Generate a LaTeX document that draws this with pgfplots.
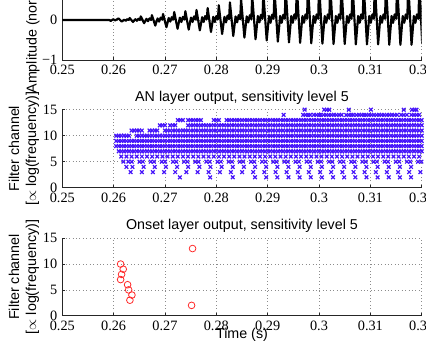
\documentclass[border=0pt]{standalone}
\usepackage{fontspec}
\setmainfont{Liberation Serif}
\newfontfamily\hv{Liberation Sans}
\usepackage{pgfplots}
\usepackage{pgfplotstable}
\pgfplotsset{compat=1.18}
\definecolor{anblue}{RGB}{70,20,250}
\definecolor{onred}{RGB}{255,40,40}
\pgfplotstableread{
t r6 r7 r8 r9 r10 r11 r12 r13
0.2605 nan nan 8 9 10 nan nan nan
0.2610 nan 7 8 9 10 nan nan nan
0.2615 6 7 8 9 10 nan nan nan
0.2620 nan 7 8 9 10 nan nan nan
0.2625 6 7 8 9 10 nan nan nan
0.2630 nan 7 8 9 10 nan nan nan
0.2635 6 7 8 9 nan 11 nan nan
0.2640 nan 7 8 9 nan 11 nan nan
0.2645 6 7 8 9 10 11 nan nan
0.2650 nan 7 8 9 10 11 nan nan
0.2655 6 7 8 9 10 11 nan nan
0.2660 nan 7 8 9 10 nan nan nan
0.2665 6 7 8 9 10 nan nan nan
0.2670 nan 7 8 9 10 11 nan nan
0.2675 6 7 8 9 10 11 nan nan
0.2680 nan 7 8 9 10 11 nan nan
0.2685 6 7 8 9 10 11 nan nan
0.2690 nan 7 8 9 10 nan 12 nan
0.2695 6 7 8 9 10 nan 12 nan
0.2700 nan 7 8 9 10 11 12 nan
0.2705 6 7 8 9 10 11 nan nan
0.2710 nan 7 8 9 10 11 12 nan
0.2715 6 7 8 9 10 11 12 nan
0.2720 nan 7 8 9 10 11 12 nan
0.2725 6 7 8 9 10 11 nan 13
0.2730 nan 7 8 9 10 11 nan 13
0.2735 6 7 8 9 10 11 nan 13
0.2740 nan 7 8 9 10 11 nan nan
0.2745 6 7 8 9 10 11 12 13
0.2750 nan 7 8 9 10 11 12 13
0.2755 6 7 8 9 10 11 12 13
0.2760 nan 7 8 9 10 11 12 13
0.2765 6 7 8 9 10 11 12 13
0.2770 nan 7 8 9 10 11 12 13
0.2775 6 7 8 9 10 11 12 nan
0.2780 nan 7 8 9 10 11 12 nan
0.2785 6 7 8 9 10 11 12 nan
0.2790 nan 7 8 9 10 11 12 nan
0.2795 6 7 8 9 10 11 12 13
0.2800 nan 7 8 9 10 11 12 13
0.2805 6 7 8 9 10 11 12 13
0.2810 nan 7 8 9 10 11 12 nan
0.2815 6 7 8 9 10 11 12 nan
0.2820 nan 7 8 9 10 11 12 13
0.2825 6 7 8 9 10 11 12 13
0.2830 nan 7 8 9 10 11 12 13
0.2835 6 7 8 9 10 11 12 13
0.2840 nan 7 8 9 10 11 12 13
0.2845 6 7 8 9 10 11 12 13
0.2850 nan 7 8 9 10 11 12 13
0.2855 6 7 8 9 10 11 12 13
0.2860 nan 7 8 9 10 11 12 13
0.2865 6 7 8 9 10 11 12 13
0.2870 nan 7 8 9 10 11 12 13
0.2875 6 7 8 9 10 11 12 13
0.2880 nan 7 8 9 10 11 12 13
0.2885 6 7 8 9 10 11 12 13
0.2890 nan 7 8 9 10 11 12 13
0.2895 6 7 8 9 10 11 12 13
0.2900 nan 7 8 9 10 11 12 13
0.2905 6 7 8 9 10 11 12 13
0.2910 nan 7 8 9 10 11 12 13
0.2915 6 7 8 9 10 11 12 13
0.2920 nan 7 8 9 10 11 12 13
0.2925 6 7 8 9 10 11 12 13
0.2930 nan 7 8 9 10 11 12 13
0.2935 6 7 8 9 10 11 12 13
0.2940 nan 7 8 9 10 11 12 13
0.2945 6 7 8 9 10 11 12 13
0.2950 nan 7 8 9 10 11 12 13
0.2955 6 7 8 9 10 11 12 13
0.2960 nan 7 8 9 10 11 12 13
0.2965 6 7 8 9 10 11 12 13
0.2970 nan 7 8 9 10 11 12 13
0.2975 6 7 8 9 10 11 12 13
0.2980 nan 7 8 9 10 11 12 13
0.2985 6 7 8 9 10 11 12 13
0.2990 nan 7 8 9 10 11 12 13
0.2995 6 7 8 9 10 11 12 13
0.3000 nan 7 8 9 10 11 12 13
0.3005 6 7 8 9 10 11 12 13
0.3010 nan 7 8 9 10 11 12 13
0.3015 6 7 8 9 10 11 12 13
0.3020 nan 7 8 9 10 11 12 13
0.3025 6 7 8 9 10 11 12 13
0.3030 nan 7 8 9 10 11 12 13
0.3035 6 7 8 9 10 11 12 13
0.3040 nan 7 8 9 10 11 12 13
0.3045 6 7 8 9 10 11 12 13
0.3050 nan 7 8 9 10 11 12 13
0.3055 6 7 8 9 10 11 12 13
0.3060 nan 7 8 9 10 11 12 13
0.3065 6 7 8 9 10 11 12 13
0.3070 nan 7 8 9 10 11 12 13
0.3075 6 7 8 9 10 11 12 13
0.3080 nan 7 8 9 10 11 12 13
0.3085 6 7 8 9 10 11 12 13
0.3090 nan 7 8 9 10 11 12 13
0.3095 6 7 8 9 10 11 12 13
0.3100 nan 7 8 9 10 11 12 13
0.3105 6 7 8 9 10 11 12 13
0.3110 nan 7 8 9 10 11 12 13
0.3115 6 7 8 9 10 11 12 13
0.3120 nan 7 8 9 10 11 12 13
0.3125 6 7 8 9 10 11 12 13
0.3130 nan 7 8 9 10 11 12 13
0.3135 6 7 8 9 10 11 12 13
0.3140 nan 7 8 9 10 11 12 13
0.3145 6 7 8 9 10 11 12 13
0.3150 nan 7 8 9 10 11 12 13
0.3155 6 7 8 9 10 11 12 13
0.3160 nan 7 8 9 10 11 12 13
0.3165 6 7 8 9 10 11 12 13
0.3170 nan 7 8 9 10 11 12 13
0.3175 6 7 8 9 10 11 12 13
0.3180 nan 7 8 9 10 11 12 13
0.3185 6 7 8 9 10 11 12 13
0.3190 nan 7 8 9 10 11 12 13
0.3195 6 7 8 9 10 11 12 13
0.3200 nan 7 8 9 10 11 12 13
}\dense
\pgfplotsset{
 mystyle/.style={
  scale only axis, width=251.6pt,
  xmin=0.25, xmax=0.32,
  xtick={0.25,0.26,0.27,0.28,0.29,0.3,0.31,0.32},
  xticklabels={0.25,0.26,0.27,0.28,0.29,0.3,0.31,0.32},
  axis x line*=bottom, axis y line*=left,
  axis line style={-, black!85, line width=0.5pt},
  tick align=inside, major tick length=2pt,
  tick style={black!85, line width=0.4pt},
  grid=major, major grid style={dotted, black!45, line width=0.4pt},
  title style={font=\hv, at={(axis description cs:0.5,1)}, anchor=base},
  ylabel style={font=\hv, align=center, at={(axis description cs:-0.1066,0.5)}, anchor=center},
 },
 anm/.style={only marks, mark=x, mark size=1.8pt, color=anblue, mark options={line width=0.85pt}},
}
\begin{document}
\begin{tikzpicture}
\clip[use as bounding box] (0pt,0pt) rectangle (298.2pt,238.7pt);
% ---------------- top: waveform
\begin{axis}[mystyle, at={(43.6pt,196.7pt)}, anchor=south west, height=56pt,
  ymin=-1, ymax=1, ytick={-1,0,1}, yticklabels={−1,0,1},
  ylabel={Amplitude (normalized)},
  ylabel style={at={(axis description cs:-0.0815,0.5)}}]
\addplot[black, line width=1.5pt, line join=round] coordinates {
(0.25,0) (0.2592,0) (0.25943,-0.025) (0.2599,0.02) (0.2603,-0.01) (0.26095,0.04)
(0.2616,-0.04) (0.26205,0.01) (0.26235,-0.02) (0.26265,0.02) (0.26295,0)
(0.26312,0.05) (0.26377,-0.05) (0.26422,0.02) (0.26452,-0.02) (0.26482,0.03) (0.26512,0)
(0.26529,0.09) (0.26594,-0.08) (0.26639,0.03) (0.26669,-0.03) (0.26699,0.04) (0.26729,0)
(0.26746,0.12) (0.26811,-0.14) (0.26856,0.04) (0.26886,-0.04) (0.26916,0.06) (0.26946,0.01)
(0.26963,0.15) (0.27028,-0.18) (0.27073,0.05) (0.27103,-0.04) (0.27133,0.07) (0.27163,0.01)
(0.2718,0.2) (0.27245,-0.22) (0.2729,0.06) (0.2732,-0.05) (0.2735,0.08) (0.2738,0.01)
(0.27397,0.22) (0.27462,-0.24) (0.27507,0.06) (0.27537,-0.05) (0.27567,0.09) (0.27597,0.01)
(0.27614,0.25) (0.27679,-0.26) (0.27724,0.07) (0.27754,-0.05) (0.27784,0.1) (0.27814,0.02)
(0.27831,0.3) (0.27896,-0.3) (0.27941,0.08) (0.27971,-0.05) (0.28001,0.1) (0.28031,0.02)
(0.28048,0.37) (0.28113,-0.35) (0.28158,0.08) (0.28188,-0.06) (0.28218,0.11) (0.28248,0.02)
(0.28265,0.44) (0.2833,-0.4) (0.28375,0.09) (0.28405,-0.06) (0.28435,0.12) (0.28465,0.02)
(0.28482,0.52) (0.28547,-0.44) (0.28592,0.09) (0.28622,-0.06) (0.28652,0.12) (0.28682,0.02)
(0.28699,0.6) (0.28764,-0.48) (0.28809,0.1) (0.28839,-0.06) (0.28869,0.13) (0.28899,0.03)
(0.28916,0.68) (0.28981,-0.51) (0.29026,0.1) (0.29056,-0.07) (0.29086,0.13) (0.29116,0.03)
(0.29133,0.74) (0.29198,-0.54) (0.29243,0.1) (0.29273,-0.07) (0.29303,0.13) (0.29333,0.03)
(0.2935,0.8) (0.29415,-0.56) (0.2946,0.1) (0.2949,-0.07) (0.2952,0.14) (0.2955,0.03)
(0.29567,0.85) (0.29632,-0.57) (0.29677,0.1) (0.29707,-0.07) (0.29737,0.14) (0.29767,0.03)
(0.29784,0.88) (0.29849,-0.58) (0.29894,0.1) (0.29924,-0.07) (0.29954,0.14) (0.29984,0.03)
(0.30001,0.9) (0.30066,-0.59) (0.30111,0.1) (0.30141,-0.07) (0.30171,0.14) (0.30201,0.03)
(0.30218,0.9) (0.30283,-0.6) (0.30328,0.1) (0.30358,-0.07) (0.30388,0.14) (0.30418,0.03)
(0.30435,0.91) (0.305,-0.6) (0.30545,0.1) (0.30575,-0.07) (0.30605,0.14) (0.30635,0.03)
(0.30652,0.91) (0.30717,-0.61) (0.30762,0.1) (0.30792,-0.07) (0.30822,0.14) (0.30852,0.03)
(0.30869,0.92) (0.30934,-0.61) (0.30979,0.1) (0.31009,-0.07) (0.31039,0.14) (0.31069,0.03)
(0.31086,0.92) (0.31151,-0.61) (0.31196,0.1) (0.31226,-0.07) (0.31256,0.14) (0.31286,0.03)
(0.31303,0.92) (0.31368,-0.62) (0.31413,0.1) (0.31443,-0.07) (0.31473,0.14) (0.31503,0.03)
(0.3152,0.92) (0.31585,-0.62) (0.3163,0.1) (0.3166,-0.07) (0.3169,0.14) (0.3172,0.03)
(0.31737,0.92) (0.31802,-0.62) (0.31847,0.1) (0.31877,-0.07) (0.31907,0.14) (0.31937,0.03)
(0.31954,0.92) (0.3201,-0.6)
};
\end{axis}
% ---------------- middle: AN layer
\begin{axis}[mystyle, at={(43.6pt,107.3pt)}, anchor=south west, height=54.6pt,
  ymin=0, ymax=15, ytick={0,5,10,15}, yticklabels={0,5,10,15},
  title={AN layer output, sensitivity level 5},
  ylabel={Filter channel\\{}[$\propto$ log(frequency)]}]
\addplot[anm] table[x=t,y=r6]{\dense};
\addplot[anm] table[x=t,y=r7]{\dense};
\addplot[anm] table[x=t,y=r8]{\dense};
\addplot[anm] table[x=t,y=r9]{\dense};
\addplot[anm] table[x=t,y=r10]{\dense};
\addplot[anm] table[x=t,y=r11]{\dense};
\addplot[anm] table[x=t,y=r12]{\dense};
\addplot[anm] table[x=t,y=r13]{\dense};
\addplot[anm] coordinates {(0.2972,15)(0.301,15)(0.3015,15)(0.302,15)(0.3058,15)(0.3101,15)(0.3165,15)(0.3181,15)(0.3186,15)(0.319,15)};
\addplot[anm] coordinates {(0.2931,14)(0.2969,14)(0.2974,14)(0.2979,14)(0.2983,14)(0.299,14)(0.2995,14)(0.3,14)(0.3003,14)(0.3009,14)(0.3014,14)(0.3019,14)(0.3024,14)(0.3029,14)(0.3034,14)(0.3039,14)(0.3044,14)(0.3053,14)(0.3058,14)(0.3063,14)(0.3067,14)(0.3073,14)(0.3078,14)(0.3083,14)(0.3088,14)(0.3092,14)(0.3097,14)(0.3102,14)(0.3107,14)(0.3112,14)(0.3117,14)(0.3122,14)(0.3127,14)(0.3132,14)(0.3137,14)(0.3142,14)(0.3147,14)(0.3152,14)(0.316,14)(0.3165,14)(0.3171,14)(0.318,14)(0.3185,14)(0.319,14)(0.3195,14)};
\addplot[anm] coordinates {(0.2619,5)(0.26287,5)(0.26352,5)(0.26504,5)(0.26569,5)(0.26721,5)(0.26786,5)(0.26938,5)(0.27003,5)(0.27155,5)(0.2722,5)(0.27372,5)(0.27437,5)(0.27589,5)(0.27654,5)(0.27806,5)(0.27871,5)(0.28023,5)(0.28088,5)(0.2824,5)(0.28305,5)(0.28457,5)(0.28522,5)(0.28674,5)(0.28739,5)(0.28891,5)(0.28956,5)(0.29108,5)(0.29173,5)(0.29325,5)(0.2939,5)(0.29542,5)(0.29607,5)(0.29759,5)(0.29824,5)(0.29976,5)(0.30041,5)(0.30193,5)(0.30258,5)(0.3041,5)(0.30475,5)(0.30627,5)(0.30692,5)(0.30844,5)(0.30909,5)(0.31061,5)(0.31126,5)(0.31278,5)(0.31343,5)(0.31495,5)(0.3156,5)(0.31712,5)(0.31777,5)(0.31929,5)(0.31994,5)};
\addplot[anm] coordinates {(0.2625,4)(0.26367,4)(0.26584,4)(0.26801,4)(0.27018,4)(0.27235,4)(0.27452,4)(0.27669,4)(0.27886,4)(0.28103,4)(0.2832,4)(0.28537,4)(0.28754,4)(0.28971,4)(0.29188,4)(0.29405,4)(0.29622,4)(0.29839,4)(0.30056,4)(0.30273,4)(0.3049,4)(0.30707,4)(0.30924,4)(0.31141,4)(0.31358,4)(0.31575,4)(0.31792,4)};
\addplot[anm] coordinates {(0.26332,3)(0.26549,3)(0.26766,3)(0.26983,3)(0.272,3)(0.27417,3)(0.27634,3)(0.27851,3)(0.28068,3)(0.28285,3)(0.28502,3)(0.28719,3)(0.28936,3)(0.29153,3)(0.2937,3)(0.29587,3)(0.29804,3)(0.30021,3)(0.30238,3)(0.30455,3)(0.30672,3)(0.30889,3)(0.31106,3)(0.31323,3)(0.3154,3)(0.31757,3)(0.31974,3)};
\addplot[anm] coordinates {(0.2729,2)(0.2788,2)(0.2832,2)(0.28754,2)(0.28971,2)(0.29188,2)(0.29405,2)(0.29622,2)(0.29839,2)(0.30056,2)(0.30273,2)(0.3049,2)(0.30707,2)(0.30924,2)(0.31141,2)(0.31358,2)(0.31575,2)(0.31792,2)};
\end{axis}
% ---------------- bottom: onset layer
\begin{axis}[mystyle, at={(43.6pt,17.7pt)}, anchor=south west, height=54.25pt,
  ymin=0, ymax=15, ytick={0,5,10,15}, yticklabels={0,5,10,15},
  title={Onset layer output, sensitivity level 5},
  ylabel={Filter channel\\{}[$\propto$ log(frequency)]},
  xlabel={Time (s)},
  xlabel style={font=\hv, at={(axis description cs:0.5,0)}, anchor=base, yshift=-15.8pt}]
\addplot[only marks, mark=o, mark size=2.35pt, color=onred, mark options={line width=0.55pt}] coordinates {(0.26136,10)(0.26187,9)(0.26155,8)(0.26136,7)(0.26272,6)(0.26292,5)(0.26356,4)(0.26317,3)(0.27537,13)(0.27518,2)};
\end{axis}
\end{tikzpicture}
\end{document}
